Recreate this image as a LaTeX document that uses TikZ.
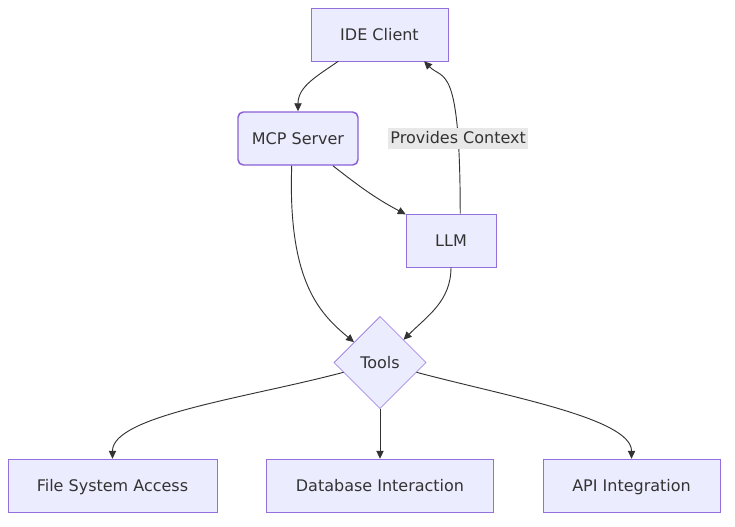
\documentclass[tikz,border=0pt]{standalone}
\usepackage{fontspec}
\setmainfont{DejaVu Sans}
\usepackage{tikz}
\usetikzlibrary{positioning,arrows.meta,shapes.geometric,calc}
\definecolor{NodeFill}{HTML}{ECECFF}
\definecolor{NodeBorder}{HTML}{9370DB}
\definecolor{ServerBorder}{HTML}{8A5FD6}
\definecolor{EdgeInk}{HTML}{333333}
\definecolor{LabelBg}{HTML}{E8E8E8}

\begin{document}
\begin{tikzpicture}[
  x=0.75pt, y=0.75pt,
  font=\fontsize{12pt}{14pt}\selectfont,
  text=EdgeInk,
  >={Triangle[length=6pt,width=5.5pt]},
  box/.style={
    rectangle, draw=NodeBorder, fill=NodeFill, align=center,
    inner xsep=0pt, text height=10pt, text depth=0.5pt, minimum height=39.75pt
  },
  server/.style={
    box, rounded corners=4pt, draw=ServerBorder, line width=1.1pt
  },
  choice/.style={
    diamond, draw=NodeBorder, fill=NodeFill, inner sep=0pt,
    text height=10pt, text depth=0.5pt, minimum width=69pt, minimum height=69pt
  },
  arrow/.style={->, draw=EdgeInk, line width=0.7pt},
  edgelabel/.style={fill=LabelBg, inner sep=1.5pt, text=EdgeInk, text height=10pt, text depth=2.5pt}
]
\useasboundingbox (0,0) rectangle (735,-526);

% Top part: client, server, model
\node[box, minimum width=102.75pt] (ide) at (379.5,-34.5) {IDE Client};
\node[server, minimum width=90pt, below=37.5pt of ide, xshift=-61.125pt] (mcp) {MCP Server};
\node[box, minimum width=67.5pt] (llm) at (451,-240.5) {LLM};

% Tools and what they reach
\node[choice] (tools) at (380,-362.5) {Tools};
\node[box, minimum width=170.25pt, below=37.5pt of tools] (db) {Database Interaction};
\node[box, minimum width=156.75pt, left=36.75pt of db] (files) {File System Access};
\node[box, minimum width=132.75pt, right=36.75pt of db] (api) {API Integration};

% --- edges ---
\draw[arrow] (ide.213) to[out=215, in=90] (mcp.north);
\draw[arrow] (mcp.-38) to[out=-38, in=152] (llm.150);
\draw[arrow] (llm.71) to[out=90, in=-45, out looseness=2.5, in looseness=0.45]
  node[edgelabel, pos=0.21] {Provides Context} (ide.-31);
\draw[arrow] (mcp.-103) to[out=-92, in=140, out looseness=1.6, in looseness=0.6] (tools.142);
\draw[arrow] (llm.south) to[out=-90, in=45] (tools.44);

% Tools fan out
\draw[arrow] (tools.195) to[out=-165, in=90, in looseness=0.45] (files.north);
\draw[arrow] (tools.south) -- (db.north);
\draw[arrow] (tools.-15) to[out=-15, in=90, in looseness=0.45] (api.north);

\end{tikzpicture}
\end{document}
